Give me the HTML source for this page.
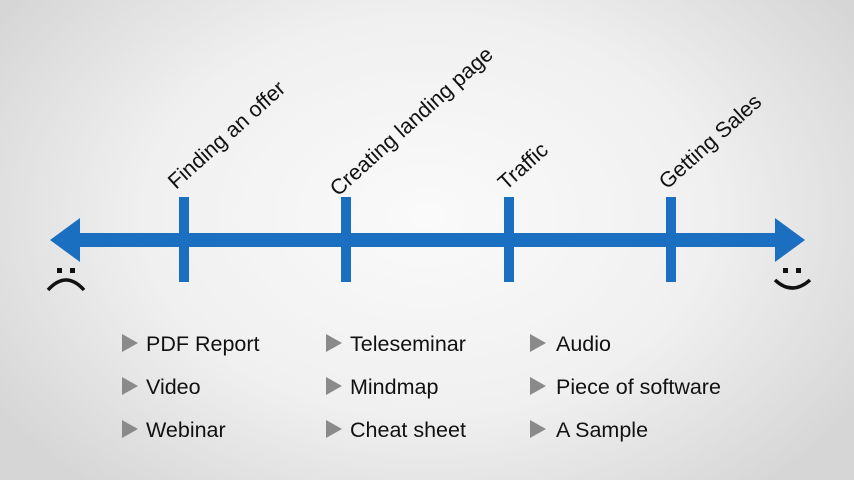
<!DOCTYPE html>
<html><head><meta charset="utf-8"><style>
html,body{margin:0;padding:0;}
body{width:854px;height:480px;overflow:hidden;background:radial-gradient(ellipse 60% 75% at 50% 45%,#fafafa 0%,#f0f0f0 55%,#d6d6d6 100%);font-family:"Liberation Sans",sans-serif;}
svg{position:absolute;left:0;top:0;}
</style></head><body>
<svg width="854" height="480" viewBox="0 0 854 480">
<g fill="#1a6fc0">
<rect x="78" y="233" width="700" height="14"/>
<polygon points="50,240 80,218 80,262"/>
<polygon points="805,240 775,218 775,262"/>
<rect x="179" y="197" width="10" height="85"/>
<rect x="341" y="197" width="10" height="85"/>
<rect x="504" y="197" width="10" height="85"/>
<rect x="666" y="197" width="10" height="85"/>
</g>
<g font-family="Liberation Sans, sans-serif" font-size="21.5" fill="#111">
<text transform="translate(176,190) rotate(-42)">Finding an offer</text>
<text transform="translate(338,197) rotate(-42)">Creating landing page</text>
<text transform="translate(506,191) rotate(-42)">Traffic</text>
<text transform="translate(667,190) rotate(-42)">Getting Sales</text>
</g>
<g fill="#111">
<rect x="57" y="268" width="5" height="5"/><rect x="70" y="268" width="5" height="5"/>
<rect x="783" y="268" width="5" height="5"/><rect x="796" y="268" width="5" height="5"/>
</g>
<path d="M48,290 Q66,270 84,290" stroke="#111" stroke-width="3.5" fill="none"/>
<path d="M775,280 Q792,296 810,280" stroke="#111" stroke-width="3.5" fill="none"/>
<g fill="#8a8a8a">
<polygon points="122,334 138,343 122,352"/><polygon points="122,377 138,386 122,395"/><polygon points="122,420 138,429 122,438"/>
<polygon points="326,334 342,343 326,352"/><polygon points="326,377 342,386 326,395"/><polygon points="326,420 342,429 326,438"/>
<polygon points="530,334 546,343 530,352"/><polygon points="530,377 546,386 530,395"/><polygon points="530,420 546,429 530,438"/>
</g>
<g font-family="Liberation Sans, sans-serif" font-size="21.5" fill="#111">
<text x="146" y="351">PDF Report</text><text x="146" y="394">Video</text><text x="146" y="437">Webinar</text>
<text x="350" y="351">Teleseminar</text><text x="350" y="394">Mindmap</text><text x="350" y="437">Cheat sheet</text>
<text x="556" y="351">Audio</text><text x="556" y="394">Piece of software</text><text x="556" y="437">A Sample</text>
</g>
</svg>
</body></html>
